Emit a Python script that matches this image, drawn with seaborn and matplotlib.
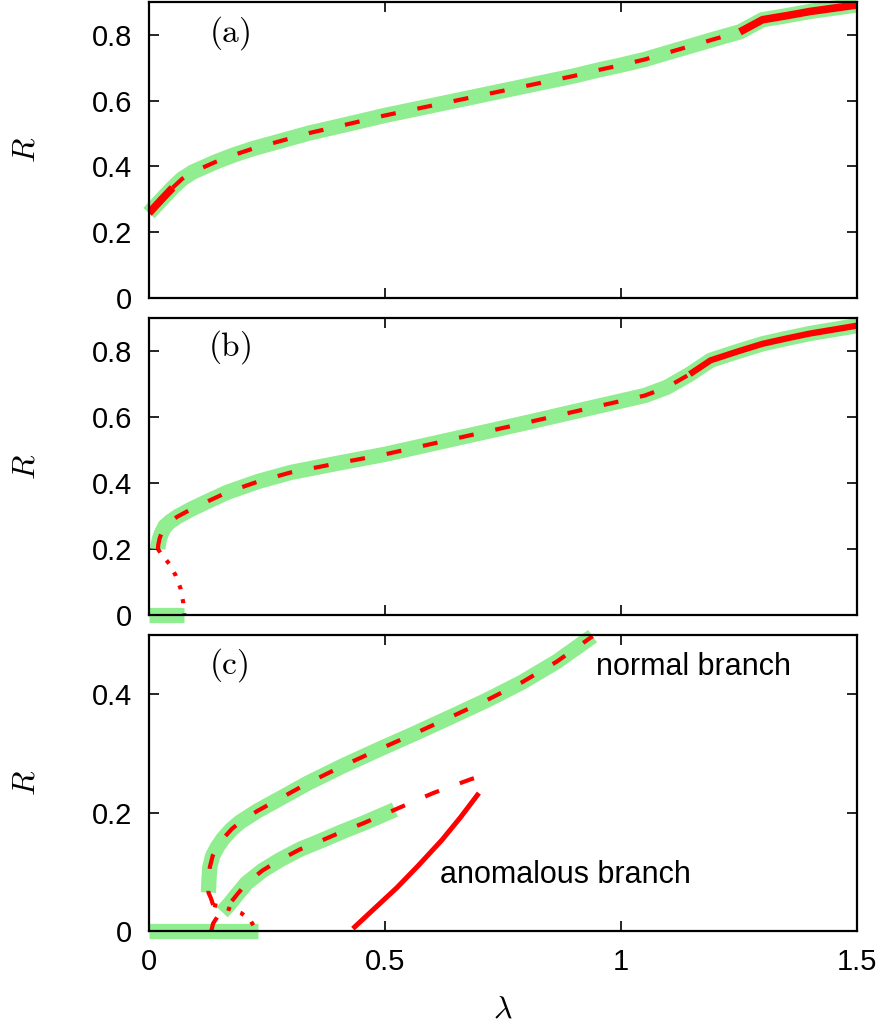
import matplotlib
matplotlib.use("Agg")
import matplotlib.pyplot as plt
import seaborn as sns

# panel (a): one continuous branch
a_lam = [0.0, 0.025, 0.05, 0.07, 0.093, 0.14, 0.182, 0.22, 0.263, 0.341, 0.42, 0.5, 0.6,
         0.7, 0.8, 0.9, 0.955, 1.0, 1.05, 1.097, 1.15, 1.2, 1.252, 1.3, 1.35, 1.4, 1.45, 1.5]
a_R = [0.258, 0.297, 0.335, 0.362, 0.383, 0.413, 0.436, 0.454, 0.471, 0.502, 0.528, 0.555,
       0.585, 0.615, 0.645, 0.675, 0.694, 0.708, 0.725, 0.745, 0.767, 0.788, 0.809, 0.846,
       0.858, 0.871, 0.881, 0.891]

# panel (b): upper branch, unstable (dotted) branch, incoherent state
b_lam = [0.019, 0.0197, 0.0225, 0.0268, 0.0339, 0.045, 0.06, 0.0904, 0.125, 0.166, 0.232,
         0.3, 0.4, 0.5, 0.6, 0.7, 0.8, 0.9, 0.955, 1.05, 1.097, 1.146, 1.19, 1.25, 1.3,
         1.35, 1.4, 1.45, 1.5]
b_R = [0.2, 0.213, 0.232, 0.249, 0.269, 0.283, 0.298, 0.3215, 0.345, 0.372, 0.405, 0.432,
       0.46, 0.487, 0.519, 0.551, 0.583, 0.616, 0.634, 0.665, 0.69, 0.73, 0.772, 0.80,
       0.822, 0.838, 0.853, 0.865, 0.877]
b_dot_lam = [0.019, 0.0247, 0.043, 0.057, 0.067, 0.0727, 0.075]
b_dot_R = [0.2, 0.188, 0.155, 0.119, 0.08, 0.037, 0.0]
b_zero_lam = [0.0, 0.074]

# panel (c): normal branch, anomalous branch
c_norm_lam = [0.126, 0.127, 0.129, 0.135, 0.145, 0.157, 0.175, 0.193, 0.23, 0.278, 0.337,
              0.411, 0.485, 0.564, 0.638, 0.716, 0.79, 0.864, 0.94]
c_norm_R = [0.065, 0.085, 0.108, 0.127, 0.142, 0.156, 0.172, 0.184, 0.203, 0.224, 0.25,
            0.279, 0.306, 0.334, 0.361, 0.39, 0.42, 0.455, 0.498]
c_tail_lam = [0.136, 0.131, 0.126]
c_tail_R = [0.044, 0.056, 0.065]
c_dot_lam = [0.136, 0.16, 0.196, 0.215, 0.228]
c_dot_R = [0.044, 0.04, 0.03, 0.018, 0.0]
c_low_lam = [0.132, 0.136, 0.145, 0.155, 0.17, 0.187, 0.207, 0.24, 0.277, 0.32, 0.369,
             0.41, 0.454, 0.521, 0.602, 0.684, 0.697]
c_low_R = [0.0, 0.013, 0.024, 0.032, 0.045, 0.062, 0.081, 0.102, 0.12, 0.138, 0.154,
           0.168, 0.182, 0.205, 0.233, 0.257, 0.26]
c_anom_lam = [0.432, 0.475, 0.525, 0.57, 0.621, 0.66, 0.699]
c_anom_R = [0.004, 0.036, 0.073, 0.11, 0.154, 0.192, 0.233]
c_zero_lam = [0.0, 0.23]

GREEN = "#90ee90"
RED = "#ff0000"
DASH = (0, (3.6, 5.3))
DOT = (0, (1, 2.4))

sns.set_style("ticks")
plt.rcParams["font.family"] = ["Liberation Sans", "DejaVu Sans"]
plt.rcParams["mathtext.fontset"] = "cm"
for k in ["text.color", "axes.labelcolor", "xtick.color", "ytick.color", "axes.edgecolor"]:
    plt.rcParams[k] = "black"


def line(ax, x, y, color, lw, ls="-", clip=True):
    sns.lineplot(x=x, y=y, ax=ax, color=color, linewidth=lw,
                 sort=False, estimator=None, clip_on=clip)
    ln = ax.lines[-1]
    ln.set_linestyle(ls)
    ln.set_solid_capstyle("butt")
    ln.set_dash_capstyle("butt")
    ln.set_solid_joinstyle("round")


fig = plt.figure(figsize=(8.83, 10.29), dpi=100)
left, width = 0.1687, 0.8018
ax_a = fig.add_axes([left, 0.7104, width, 0.2877])
ax_b = fig.add_axes([left, 0.4023, width, 0.2886])
ax_c = fig.add_axes([left, 0.0952, width, 0.2877])

# (a)
line(ax_a, a_lam, a_R, GREEN, 11, clip=False)
line(ax_a, a_lam[:3], a_R[:3], RED, 5.5)
line(ax_a, a_lam[2:23], a_R[2:23], RED, 3, DASH)
line(ax_a, a_lam[22:], a_R[22:], RED, 5.5)

# (b)
line(ax_b, b_lam, b_R, GREEN, 11, clip=False)
line(ax_b, b_zero_lam, [0, 0], GREEN, 11, clip=False)
line(ax_b, b_lam[:22], b_R[:22], RED, 3, DASH)
line(ax_b, b_lam[21:], b_R[21:], RED, 4.5)
line(ax_b, b_dot_lam, b_dot_R, RED, 3, DOT)

# (c)
line(ax_c, c_norm_lam, c_norm_R, GREEN, 11, clip=False)
line(ax_c, c_low_lam[3:14], c_low_R[3:14], GREEN, 11, clip=False)
line(ax_c, c_zero_lam, [0, 0], GREEN, 11, clip=False)
line(ax_c, c_tail_lam + c_norm_lam[1:], c_tail_R + c_norm_R[1:], RED, 3, DASH)
line(ax_c, c_dot_lam, c_dot_R, RED, 3, DOT)
line(ax_c, c_low_lam, c_low_R, RED, 3, DASH)
line(ax_c, c_anom_lam, c_anom_R, RED, 3.6)

ax_c.text(0.947, 0.432, "normal branch", fontsize=22, va="baseline", ha="left")
ax_c.text(0.617, 0.081, "anomalous branch", fontsize=22, va="baseline", ha="left")

panels = [(ax_a, "(a)", 0.9, [0, 0.2, 0.4, 0.6, 0.8], 0.806),
          (ax_b, "(b)", 0.9, [0, 0.2, 0.4, 0.6, 0.8], 0.812),
          (ax_c, "(c)", 0.5, [0, 0.2, 0.4], 0.449)]
for ax, tag, ymax, yt, ty in panels:
    ax.set_xlim(0, 1.5)
    ax.set_ylim(0, ymax)
    ax.set_xticks([0, 0.5, 1, 1.5])
    ax.set_yticks(yt)
    ax.set_yticklabels(["0" if v == 0 else f"{v:g}" for v in yt])
    ax.tick_params(direction="in", length=7, width=1.2, top=True, right=True,
                   labelsize=21)
    ax.tick_params(axis="y", pad=12)
    ax.tick_params(axis="x", pad=12)
    for s in ax.spines.values():
        s.set_linewidth(1.6)
    ax.set_ylabel(r"$R$", fontsize=23, rotation=90)
    ax.yaxis.set_label_coords(-0.152, 0.5)
    ax.text(0.17, ty, r"$\mathrm{" + tag + "}$", fontsize=24, ha="center", va="center")
    ax.set_xlabel("")

ax_a.set_xticklabels([])
ax_b.set_xticklabels([])
ax_c.set_xticklabels(["0", "0.5", "1", "1.5"])
ax_c.set_xlabel(r"$\lambda$", fontsize=23)
ax_c.xaxis.set_label_coords(0.5, -0.215)

fig.savefig("out.png", dpi=100)
